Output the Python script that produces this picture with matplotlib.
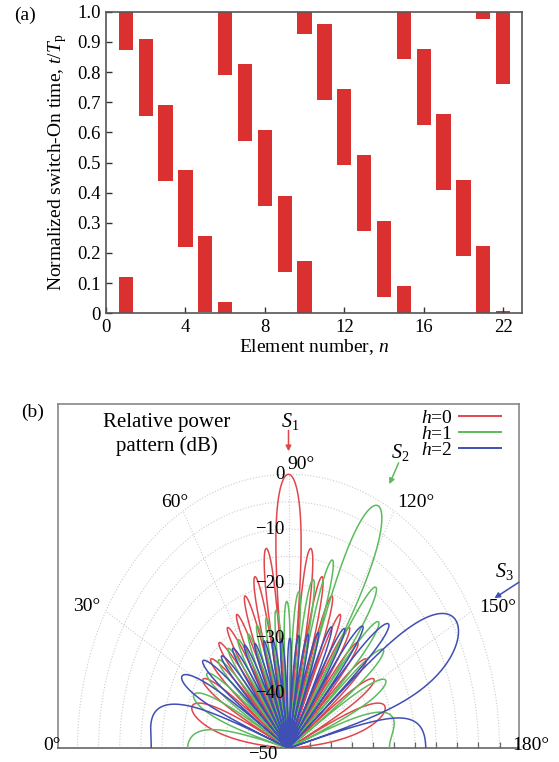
import numpy as np
import matplotlib
matplotlib.use("Agg")
import matplotlib.pyplot as plt
from matplotlib.lines import Line2D

plt.rcParams['font.family'] = ['Liberation Serif', 'DejaVu Serif']
plt.rcParams['mathtext.fontset'] = 'custom'
plt.rcParams['mathtext.rm'] = 'Liberation Serif'
plt.rcParams['mathtext.it'] = 'Liberation Serif:italic'
plt.rcParams['axes.unicode_minus'] = True

# ---------------- data: panel (a) ----------------
elements = list(range(1, 21))
on_t = [0.873, 0.655, 0.439, 0.221, 0.003, 0.790, 0.572, 0.356, 0.138, 0.926,
        0.708, 0.491, 0.273, 0.055, 0.842, 0.624, 0.408, 0.190, 0.977, 0.760]
off_t = [0.122, 0.908, 0.691, 0.474, 0.256, 0.039, 0.825, 0.608, 0.390, 0.172,
         0.959, 0.743, 0.525, 0.307, 0.091, 0.876, 0.660, 0.442, 0.224, 0.008]
xtick_pos = [0, 4, 8, 12, 16, 20]
xtick_labels = ['0', '4', '8', '12', '16', '22']
ytick_pos = [0.0, 0.1, 0.2, 0.3, 0.4, 0.5, 0.6, 0.7, 0.8, 0.9, 1.0]
ytick_labels = ['0', '0.1', '0.2', '0.3', '0.4', '0.5', '0.6', '0.7', '0.8', '0.9', '1.0']

# ---------------- data: panel (b) ----------------
harmonics = [0, 1, 2]
harm_labels = [r'$h$=0', r'$h$=1', r'$h$=2']
harm_colors = ['#e0474c', '#5dbb5d', '#3f4fb3']
db_floor = -50
r_grid = [5, 10, 15, 20, 25, 30, 35, 40, 45, 50]
theta_grid = [30, 60, 90, 120, 150]
theta_labels = ['0°', '30°', '60°', '90°', '120°', '150°', '180°']
r_labels = ['0', '−10', '−20', '−30', '−40', '−50']
r_label_vals = [0, -10, -20, -30, -40, -50]

fig = plt.figure(figsize=(5.59, 7.62), dpi=100)

# ======================= panel (a) =======================
axa = fig.add_axes([106/559, 1-313.3/762, 416/559, 301.6/762])
bar_w = 0.72
red = '#db3030'
for n, t1, t2 in zip(elements, on_t, off_t):
    if t2 >= t1:
        axa.bar(n, t2 - t1, bottom=t1, width=bar_w, color=red, edgecolor='none')
    else:
        axa.bar(n, 1.0 - t1, bottom=t1, width=bar_w, color=red, edgecolor='none')
        axa.bar(n, t2, bottom=0.0, width=bar_w, color=red, edgecolor='none')
axa.set_xlim(0, 20.95)
axa.set_ylim(0, 1.0)
axa.set_xticks(xtick_pos)
axa.set_xticklabels(xtick_labels)
axa.set_yticks(ytick_pos)
axa.set_yticklabels(ytick_labels)
axa.tick_params(direction='in', length=4, width=1, labelsize=13.5, color='#333333',
                top=False, right=False, pad=4)
for s in axa.spines.values():
    s.set_color('#555555')
    s.set_linewidth(1.2)
axa.set_xlabel(r'Element number, $n$', fontsize=14, labelpad=1)
axa.set_ylabel(r'Normalized switch-On time, $t/T_{\mathrm{p}}$', fontsize=14, labelpad=6)
fig.text(25/559, 1-15/762, '(a)', fontsize=14, ha='center', va='center')

# ======================= panel (b) =======================
axb = fig.add_axes([58/559, 13.7/762, 461/559, 344.3/762])
px_x = 4.22   # pixels per dB horizontally
px_y = 5.48   # pixels per dB vertically
axb.set_xlim(-230.5/px_x, 230.5/px_x)
axb.set_ylim(0, 344.3/px_y)

theta = np.linspace(0, np.pi, 4001)
n_idx = np.array(elements, dtype=float)
t1 = np.array(on_t)
t2 = np.array(off_t)
t2 = np.where(t2 < t1, t2 + 1.0, t2)

def coeffs(h):
    if h == 0:
        return (t2 - t1).astype(complex)
    return (np.exp(-2j*np.pi*h*t1) - np.exp(-2j*np.pi*h*t2)) / (2j*np.pi*h)

phase = np.exp(1j*np.pi*np.outer(np.cos(theta), n_idx))
afs = [np.abs(phase @ coeffs(h)) for h in harmonics]
ref = afs[0].max()

def to_xy(rho, th):
    return -rho*np.cos(th), rho*np.sin(th)

# grid
gcol = '#cccccc'
tt = np.linspace(0, np.pi, 400)
for rg in r_grid:
    gx, gy = to_xy(rg, tt)
    axb.plot(gx, gy, color=gcol, lw=0.8, ls=(0, (1, 1.6)), zorder=1)
for tg in theta_grid:
    gx, gy = to_xy(np.array([0, 50]), np.deg2rad(tg))
    axb.plot(gx, gy, color=gcol, lw=0.8, ls=(0, (1, 1.6)), zorder=1)

handles = []
for h, af, col, lab in zip(harmonics, afs, harm_colors, harm_labels):
    db = 20*np.log10(np.maximum(af/ref, 1e-12))
    rho = np.clip(db - db_floor, 0, None)
    x, y = to_xy(rho, theta)
    axb.plot(x, y, color=col, lw=1.1, zorder=3)
    handles.append(Line2D([0], [0], color=col, lw=1.4))

axb.legend(handles, harm_labels, loc='upper right', bbox_to_anchor=(0.962, 0.985),
           markerfirst=False, frameon=False, fontsize=14, handlelength=2.2,
           labelspacing=-0.08, borderaxespad=0.0, handletextpad=0.3, borderpad=0.0)

# frame & ticks
for s in axb.spines.values():
    s.set_color('#888888')
    s.set_linewidth(1.2)
axb.spines['bottom'].set_color('#666666')
axb.set_yticks([])
axb.set_xticks(r_grid)
axb.tick_params(axis='x', direction='in', length=4, width=0.9, color='#666666',
                labelbottom=False)

# radial labels
for lab, v in zip(r_labels[:-1], r_label_vals[:-1]):
    axb.text(-0.9, v - db_floor, lab, ha='right', va='center', fontsize=13.5, zorder=5)
axb.text(-6.0, -1.2, r_labels[-1], ha='center', va='center', fontsize=13.5,
         clip_on=False, zorder=5)

# angular labels
theta_label_pos = [(-56.0, 0.6), (-47.9, 25.9), (-27.0, 44.9), (2.9, 51.8),
                   (30.1, 44.9), (49.6, 25.7), (57.5, 0.6)]
for lab, (tx, ty) in zip(theta_labels, theta_label_pos):
    axb.text(tx, ty, lab, ha='center', va='center', fontsize=14, clip_on=False, zorder=5)

# title
axb.text(-28.9, 57.3, 'Relative power\npattern (dB)', ha='center', va='center',
         fontsize=15, linespacing=1.3)

# beam markers
beam_text = [r'$S_1$', r'$S_2$', r'$S_3$']
beam_text_pos = [(0.4, 59.6), (26.5, 53.9), (51.2, 32.3)]
beam_tail = [(0.0, 58.0), (26.1, 52.1), (54.6, 30.3)]
beam_tip = [(0.0, 54.2), (23.9, 48.2), (48.8, 27.4)]
for lab, tp, tl, tip, col in zip(beam_text, beam_text_pos, beam_tail, beam_tip, harm_colors):
    axb.text(tp[0], tp[1], lab, ha='center', va='center', fontsize=14.5, zorder=6)
    axb.annotate('', xy=tip, xytext=tl,
                 arrowprops=dict(arrowstyle='-|>', color=col, lw=1.1, mutation_scale=8,
                                 shrinkA=0, shrinkB=0), annotation_clip=False)

fig.text(33/559, 1-412/762, '(b)', fontsize=14, ha='center', va='center')

fig.savefig('out.png', dpi=100)
